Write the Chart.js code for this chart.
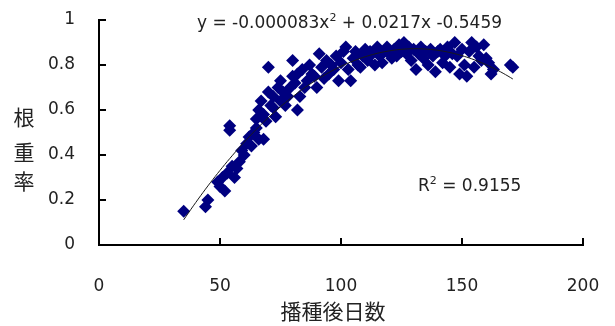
<!DOCTYPE html>
<html>
<head>
<meta charset="utf-8">
<script src="https://cdn.jsdelivr.net/npm/chart.js@4.4.0/dist/chart.umd.min.js"></script>
<style>
  html, body { margin: 0; padding: 0; background: #fff; }
  #wrap { width: 615px; height: 326px; position: relative; }
</style>
</head>
<body>
<div id="wrap"><canvas id="rootChart"></canvas></div>
<script>
// 播種後日数
const daysAfterSowing = [
  35, 44, 45, 49, 50, 51, 52, 53, 54, 54, 55, 56, 57, 58, 59, 60, 61, 62, 63, 64,
  65, 65, 66, 66, 67, 68, 68, 69, 70, 70, 71, 72, 72, 73, 74, 75, 75, 76, 77, 78,
  79, 80, 80, 81, 82, 82, 83, 84, 85, 86, 87, 88, 89, 90, 91, 92, 93, 94, 95, 96,
  97, 98, 99, 100, 101, 102, 103, 104, 105, 106, 107, 108, 109, 110, 111, 112, 113, 114, 115, 116,
  117, 118, 119, 120, 121, 122, 123, 124, 125, 126, 127, 128, 129, 130, 131, 132, 133, 134, 135, 136,
  137, 138, 139, 140, 141, 142, 143, 144, 145, 146, 147, 148, 149, 150, 151, 152, 153, 154, 155, 156,
  157, 158, 159, 160, 161, 162, 163, 170, 171
];
// 根重率
const rootWeightRatio = [
  0.15, 0.17, 0.20, 0.28, 0.26, 0.30, 0.24, 0.32, 0.53, 0.51, 0.35, 0.30, 0.34, 0.37, 0.42, 0.40, 0.45, 0.48, 0.44, 0.50,
  0.52, 0.56, 0.60, 0.47, 0.64, 0.58, 0.47, 0.55, 0.79, 0.68, 0.62, 0.61, 0.66, 0.57, 0.70, 0.73, 0.64, 0.68, 0.62, 0.66,
  0.70, 0.82, 0.75, 0.72, 0.60, 0.76, 0.66, 0.78, 0.70, 0.73, 0.80, 0.76, 0.75, 0.70, 0.85, 0.79, 0.74, 0.82, 0.76, 0.80,
  0.78, 0.84, 0.73, 0.81, 0.86, 0.88, 0.78, 0.73, 0.83, 0.86, 0.80, 0.79, 0.84, 0.87, 0.82, 0.86, 0.85, 0.80, 0.88, 0.84,
  0.81, 0.86, 0.88, 0.85, 0.83, 0.87, 0.84, 0.89, 0.86, 0.90, 0.85, 0.88, 0.82, 0.87, 0.78, 0.85, 0.88, 0.83, 0.86, 0.80,
  0.87, 0.84, 0.77, 0.86, 0.87, 0.81, 0.84, 0.88, 0.79, 0.85, 0.90, 0.84, 0.76, 0.87, 0.80, 0.75, 0.86, 0.90, 0.79, 0.88,
  0.84, 0.82, 0.89, 0.83, 0.81, 0.76, 0.78, 0.80, 0.79
];

const xTickValues = [0, 50, 100, 150, 200];
const yTickValues = [0, 0.2, 0.4, 0.6, 0.8, 1];

// 近似曲線 y = a x^2 + b x + c
const trendCoef = [-0.000083, 0.0217, -0.5459];
const trendRange = [35, 171];
const equationParts = ['y = -0.000083x', '2', ' + 0.0217x -0.5459'];
const r2Parts = ['R', '2', ' = 0.9155'];

const xTitle = '播種後日数';
const yTitleChars = ['根', '重', '率'];

const cjkFont = '21px "Noto Sans CJK JP", sans-serif';

/**
 * 上付き文字を含むテキスト
 */
const drawSupText = (ctx, parts, x, y, size) => {
  ctx.textAlign = 'left';
  ctx.textBaseline = 'middle';
  ctx.font = `${size}px "DejaVu Sans", sans-serif`;
  ctx.fillText(parts[0], x, y);
  x += ctx.measureText(parts[0]).width;
  ctx.font = `${Math.round(size * 0.65)}px "DejaVu Sans", sans-serif`;
  ctx.fillText(parts[1], x, y - size * 0.35);
  x += ctx.measureText(parts[1]).width;
  ctx.font = `${size}px "DejaVu Sans", sans-serif`;
  ctx.fillText(parts[2], x, y);
};

const decorPlugin = {
  id: 'excelDecor',
  beforeDraw(chart) {
    const { ctx } = chart;
    ctx.save();
    ctx.fillStyle = '#fff';
    ctx.fillRect(0, 0, chart.width, chart.height);
    ctx.restore();
  },
  afterDatasetsDraw(chart) {
    const { ctx } = chart;
    const sx = chart.scales.x;
    const sy = chart.scales.y;

    // 近似曲線
    ctx.save();
    ctx.strokeStyle = '#1a1a1a';
    ctx.lineWidth = 1;
    ctx.beginPath();
    for (let d = trendRange[0]; d <= trendRange[1]; d += 1) {
      const v = trendCoef[0] * d * d + trendCoef[1] * d + trendCoef[2];
      const px = sx.getPixelForValue(d);
      const py = sy.getPixelForValue(v);
      if (d === trendRange[0]) ctx.moveTo(px, py); else ctx.lineTo(px, py);
    }
    ctx.stroke();
    ctx.restore();
  },
  afterDraw(chart) {
    const { ctx, chartArea } = chart;
    const sx = chart.scales.x;
    const sy = chart.scales.y;

    ctx.save();
    // 内向きの目盛
    ctx.strokeStyle = '#000';
    ctx.lineWidth = 2;
    ctx.beginPath();
    for (const t of sy.ticks) {
      const py = Math.round(sy.getPixelForValue(t.value));
      ctx.moveTo(chartArea.left, py);
      ctx.lineTo(chartArea.left + 7, py);
    }
    for (const t of sx.ticks) {
      const px = Math.round(sx.getPixelForValue(t.value));
      ctx.moveTo(px, chartArea.bottom);
      ctx.lineTo(px, chartArea.bottom - 7);
    }
    ctx.stroke();

    // 数式とR2
    ctx.fillStyle = '#222';
    drawSupText(ctx, equationParts, 197, 24, 17);
    drawSupText(ctx, r2Parts, 418, 187, 17);

    // 軸タイトル
    ctx.font = cjkFont;
    ctx.textAlign = 'center';
    ctx.textBaseline = 'middle';
    ctx.fillText(xTitle, 333, 311);
    const yPos = [117, 152, 181];
    yTitleChars.forEach((c, i) => ctx.fillText(c, 24, yPos[i]));
    ctx.restore();
  }
};

document.addEventListener('DOMContentLoaded', function() {
  const ctx = document.getElementById('rootChart').getContext('2d');
  const points = daysAfterSowing.map((d, i) => ({ x: d, y: rootWeightRatio[i] }));

  new Chart(ctx, {
    type: 'scatter',
    data: {
      datasets: [{
        data: points,
        pointStyle: 'rectRot',
        pointRadius: 6.5,
        pointHoverRadius: 6.5,
        backgroundColor: '#000080',
        borderColor: '#000080',
        borderWidth: 0
      }]
    },
    options: {
      responsive: true,
      maintainAspectRatio: false,
      devicePixelRatio: 1,
      animation: false,
      layout: { padding: { top: 20, right: 32, left: 0, bottom: 0 } },
      plugins: { legend: { display: false }, tooltip: { enabled: false } },
      scales: {
        x: {
          type: 'linear',
          min: 0,
          max: 200,
          afterBuildTicks: scale => { scale.ticks = xTickValues.map(v => ({ value: v })); },
          afterFit: scale => {
            scale.height = 81;
            scale.paddingLeft = 0;
            scale.paddingRight = 0;
          },
          grid: { display: true, drawOnChartArea: false, drawTicks: false },
          border: { display: true, color: '#000', width: 2 },
          ticks: { color: '#222', font: { family: 'DejaVu Sans', size: 17 }, padding: 31, maxRotation: 0 }
        },
        y: {
          type: 'linear',
          min: 0,
          max: 1,
          afterBuildTicks: scale => { scale.ticks = yTickValues.map(v => ({ value: v })); },
          afterFit: scale => {
            scale.width = 99;
            scale.paddingTop = 0;
            scale.paddingBottom = 0;
          },
          grid: { display: true, drawOnChartArea: false, drawTicks: false },
          border: { display: true, color: '#000', width: 2 },
          ticks: {
            color: '#222',
            font: { family: 'DejaVu Sans', size: 17 },
            padding: 24,
            callback: value => `${Math.round(value * 10) / 10}`
          }
        }
      }
    },
    plugins: [decorPlugin]
  });
});
</script>
</body>
</html>
